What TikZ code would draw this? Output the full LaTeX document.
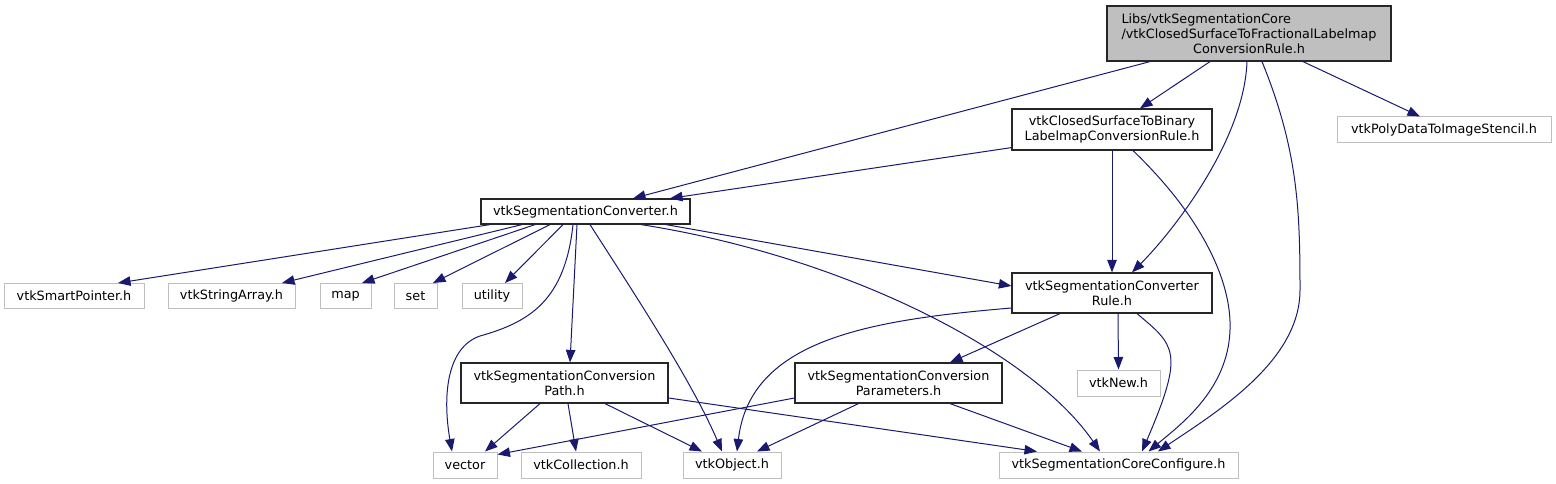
\documentclass[tikz,border=0pt]{standalone}
\usepackage{fontspec}
\setmainfont{DejaVu Sans}
\definecolor{dxedge}{RGB}{25,25,112}
\definecolor{dxgray}{RGB}{191,191,191}
\usetikzlibrary{arrows.meta,positioning}

\begin{document}
\begin{tikzpicture}[x=1pt,y=-1pt,
  every node/.style={font=\fontsize{12.8}{15}\selectfont, inner sep=0pt, align=center},
  hdrbox/.style={draw=black!85, line width=1.2pt, fill=white},
  extbox/.style={draw=dxgray, line width=1pt, fill=white},
  dep/.style={draw=dxedge, line width=1pt, -{Triangle[length=12.5pt,width=9.5pt]}}]
  \useasboundingbox (0,0) rectangle (1556,484);

  %% Top file
  \node[hdrbox, fill=dxgray, minimum width=284pt, minimum height=55pt] (root) at (1249,33.5)
    {\rlap{Libs/vtkSegmentationCore}\phantom{/vtkClosedSurfaceToFractionalLabelmap}\\/vtkClosedSurfaceToFractionalLabelmap\\ConversionRule.h};

  %% Second level
  \node[hdrbox, minimum width=200pt, minimum height=41pt] (binrule) at (1112,129.5) {vtkClosedSurfaceToBinary\\LabelmapConversionRule.h};
  \node[extbox, minimum width=214pt, minimum height=26pt] (polydata) at (1444,130) {vtkPolyDataToImageStencil.h};

  \node[hdrbox, minimum width=209pt, minimum height=25pt] (converter) at (585.5,211.5) {vtkSegmentationConverter.h};
  \node[hdrbox, minimum width=200pt, minimum height=40pt] (convrule) at (1112,293) {vtkSegmentationConverter\\Rule.h};

  %% Row of system headers
  \node[extbox, minimum width=140pt, minimum height=25pt] (smartptr) at (74,296) {vtkSmartPointer.h};
  \node[extbox, minimum width=127pt, minimum height=25pt] (strarray) at (231.5,296) {vtkStringArray.h};
  \node[extbox, minimum width=51pt, minimum height=25pt] (map) at (345.5,296) {map};
  \node[extbox, minimum width=43pt, minimum height=25pt] (set) at (415.5,296) {set};
  \node[extbox, minimum width=60pt, minimum height=25pt] (utility) at (492,296) {utility};

  %% Third level
  \node[hdrbox, minimum width=207pt, minimum height=40pt] (path) at (564.5,383) {vtkSegmentationConversion\\Path.h};
  \node[hdrbox, minimum width=207pt, minimum height=40pt] (params) at (898.5,383) {vtkSegmentationConversion\\Parameters.h};
  \node[extbox, minimum width=83pt, minimum height=26pt] (vtknew) at (1118.5,383) {vtkNew.h};

  %% Bottom row
  \node[extbox, minimum width=64pt, minimum height=26pt] (vector) at (465,465) {vector};
  \node[extbox, minimum width=120pt, minimum height=26pt] (collection) at (581,465) {vtkCollection.h};
  \node[extbox, minimum width=98pt, minimum height=26pt] (object) at (732,465) {vtkObject.h};
  \node[extbox, minimum width=239pt, minimum height=26pt] (coreconf) at (1118.5,465) {vtkSegmentationCoreConfigure.h};

  %% Edges from the top file
  \draw[dep] ([xshift=-99pt]root.south) -- ([xshift=47.5pt]converter.north);
  \draw[dep] ([xshift=-39pt]root.south) -- ([xshift=28pt]binrule.north);
  \draw[dep] ([xshift=-2pt]root.south) .. controls +(-3,80) and +(40,-40) .. ([xshift=20pt]convrule.north);
  \draw[dep] ([xshift=13pt]root.south) .. controls (1298,150) and (1300,210) .. (1300,290)
    .. controls (1300,360) and (1220,410) .. ([xshift=39.5pt]coreconf.north);
  \draw[dep] ([xshift=54pt]root.south) -- ([xshift=-24pt]polydata.north);

  %% Edges from binrule
  \draw[dep] ([yshift=3pt]binrule.south west) -- ([xshift=84.5pt]converter.north);
  \draw[dep] (binrule.south) -- (convrule.north);
  \draw[dep] ([xshift=21pt]binrule.south) .. controls (1200,215) and (1232,280) .. (1230,330)
    .. controls (1228,390) and (1180,425) .. ([xshift=30pt]coreconf.north);

  %% Edges from converter
  \draw[dep] ([xshift=-95.5pt]converter.south) -- ([xshift=44pt]smartptr.north);
  \draw[dep] ([xshift=-63.5pt]converter.south) -- ([xshift=50.5pt]strarray.north);
  \draw[dep] ([xshift=-50.5pt]converter.south) -- ([xshift=16.5pt]map.north);
  \draw[dep] ([xshift=-35.5pt]converter.south) -- ([xshift=17.5pt]set.north);
  \draw[dep] ([xshift=-22.5pt]converter.south) -- ([xshift=13pt]utility.north);
  \draw[dep] ([xshift=-12.5pt]converter.south) .. controls (565,300) and (530,322) .. (480,336)
    .. controls (445,348) and (443,400) .. ([xshift=-13pt]vector.north);
  \draw[dep] ([xshift=-8.5pt]converter.south) -- ([xshift=5.5pt]path.north);
  \draw[dep] ([xshift=4.5pt]converter.south) .. controls +(45,70) and +(-30,-70) .. ([xshift=-10pt]object.north);
  \draw[dep] ([xshift=55.5pt]converter.south) .. controls +(199,31) and +(-70,-102) .. ([xshift=-18.5pt]coreconf.north);
  \draw[dep] ([xshift=80.5pt]converter.south) -- ([yshift=7pt]convrule.west);

  %% Edges from convrule
  \draw[dep] ([yshift=-15pt]convrule.west) .. controls +(-142,12) and +(13,-112) .. ([xshift=5pt]object.north);
  \draw[dep] ([xshift=-52pt]convrule.south) -- ([xshift=51.5pt]params.north);
  \draw[dep] ([xshift=6pt]convrule.south) -- (vtknew.north);
  \draw[dep] ([xshift=25pt]convrule.south) .. controls +(38,32) and +(43,-100) .. ([xshift=23.5pt]coreconf.north);

  %% Edges from path
  \draw[dep] ([xshift=-24.5pt]path.south) -- ([xshift=20pt]vector.north);
  \draw[dep] ([xshift=3.5pt]path.south) -- ([xshift=-5pt]collection.north);
  \draw[dep] ([xshift=40.5pt]path.south) -- ([xshift=-30pt]object.north);
  \draw[dep] ([yshift=-15pt]path.east) -- ([xshift=-81.5pt]coreconf.north);

  %% Edges from params
  \draw[dep] ([yshift=-15pt]params.west) -- ([yshift=-3pt]vector.north east);
  \draw[dep] ([xshift=-40pt]params.south) -- ([xshift=25pt]object.north);
  \draw[dep] ([xshift=51.5pt]params.south) -- ([xshift=-36.5pt]coreconf.north);
\end{tikzpicture}
\end{document}
